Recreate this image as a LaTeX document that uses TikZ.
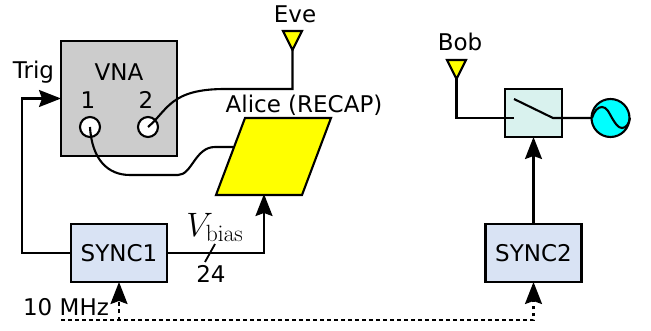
\documentclass[tikz,border=0pt]{standalone}
\usepackage[no-math]{fontspec}
\setmainfont{DejaVu Sans}
\usetikzlibrary{arrows.meta,calc}
\definecolor{syncblue}{RGB}{217,227,244}
\definecolor{switchgreen}{RGB}{217,242,238}
\definecolor{antyellow}{RGB}{255,255,0}
\definecolor{srccyan}{RGB}{0,255,255}
\definecolor{vnagray}{RGB}{204,204,204}
\tikzset{
  x=1pt,y=-1pt,
  wire/.style={line width=2.1pt,line join=miter,black},
  tipped/.style={wire,-{Stealth[length=22pt,width=17pt,inset=3pt]}},
  dotwire/.style={tipped,dash pattern=on 3.5pt off 3.5pt},
  box/.style={draw,line width=2.1pt,inner sep=0pt,outer sep=0pt},
  syncbox/.style={box,fill=syncblue,minimum width=96pt,minimum height=58pt,font=\fontsize{23}{27}\selectfont},
  label/.style={inner sep=0pt,font=\fontsize{23}{27}\selectfont},
  port/.style={circle,draw,fill=white,line width=2.1pt,minimum size=20pt,inner sep=0pt,outer sep=0pt},
  antenna/.style={draw,line width=2.1pt,fill=antyellow,line join=miter},
}
\begin{document}
\begin{tikzpicture}
\useasboundingbox (0,0) rectangle (651,331);
% boxes
\node[box,fill=vnagray,minimum width=116pt,minimum height=115pt] (vna) at (119,98.5) {};
\node[syncbox] (s1) at (119,253) {\raisebox{-1pt}{SYNC1}};
\node[syncbox] (s2) at (533.5,253) {\raisebox{-1pt}{SYNC2}};
\node[box,fill=switchgreen,minimum width=57pt,minimum height=48pt] (sw) at (533.5,113) {};
\node[port] (p1) at (90,127) {};
\node[port] (p2) at (148,127) {};
\node[circle,draw,fill=srccyan,line width=2.1pt,minimum size=38pt,inner sep=0pt,outer sep=0pt] (src) at (610.5,118) {};
% coordinates
\coordinate (eveb) at (292.5,50);
\coordinate (bobb) at (456.5,79);
\coordinate (alicel) at (233,147);
\coordinate (aliceb) at (264,194);
\coordinate (swa) at (514,118);
\coordinate (swb) at (553,118);
\coordinate (swt) at (514,99);
\coordinate (clk) at (61,320);
% Alice
\draw[antenna] (245,118) -- (331,118) -- (302,195) -- (216,195) -- cycle;
% antennas
\draw[antenna] (283,31) -- (302,31) -- (eveb) -- cycle;
\draw[antenna] (447,60) -- (466,60) -- (bobb) -- cycle;
% RF wires
\draw[wire] (p2.center) .. controls (168,110) and (170,89) .. (225,89) -- (292.5,89) -- (eveb);
\draw[wire] (p1.center) .. controls (92,160) and (108,175) .. (130,175) -- (178,175) .. controls (192,175) and (195,147) .. (215,147) -- (alicel);
\draw[wire] (bobb) |- (swa);
\draw[wire] (swt) -- (swb) -- (src.west);
% sine
\draw[wire] (592,118) .. controls (594,111) and (598,107) .. (602,107) .. controls (607,107) and (609,113) .. (612,118) .. controls (615,123) and (618,128) .. (622,128) .. controls (626,128) and (629,124) .. (630,118);
% control
\draw[tipped] (s1.west) -- (22,253) |- (vna.west);
\draw[tipped] (s1.east) -| (aliceb);
\draw[tipped] (s2.north) -- (sw.south);
\draw[dotwire] (clk) -| (s2.south);
\draw[dotwire] (119,320) -- (s1.south);
\draw[line width=1.8pt] (215,244) -- (205,262);
% labels
\node[label] (eve) at (295,14) {Eve};
\node[label] (bob) at (460,42) {Bob};
\node[label] (trig) at (33.5,72) {Trig};
\node[label] (vnal) at (119,72) {VNA};
\node[label] (n1) at (88,100) {1};
\node[label] (n2) at (146,100) {2};
\node[label] (alice) at (304,105) {Alice (RECAP)};
\node[label] (vb) at (215,227.5) {\scalebox{1.36}{$V_{\mathrm{bias}}$}};
\node[label] (n24) at (211,274) {24};
\node[label] (mhz) at (66,307) {10 MHz};
\end{tikzpicture}
\end{document}
